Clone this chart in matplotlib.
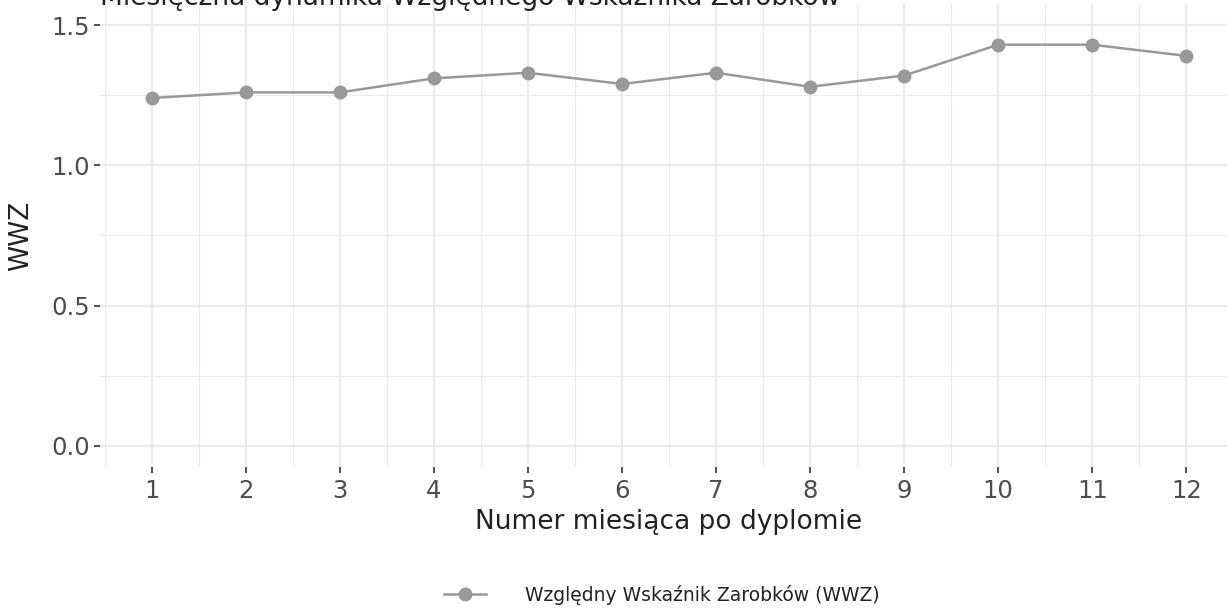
import matplotlib
matplotlib.use("Agg")

import matplotlib.pyplot as plt
from matplotlib.lines import Line2D
from matplotlib.ticker import FixedLocator

# ── Data ──
months = [1, 2, 3, 4, 5, 6, 7, 8, 9, 10, 11, 12]
wwz = [1.24, 1.26, 1.26, 1.31, 1.33, 1.29, 1.33, 1.28, 1.32, 1.43, 1.43, 1.39]
y_ticks = [0.0, 0.5, 1.0, 1.5]

title = "Miesięczna dynamika Względnego Wskaźnika Zarobków"
x_label = "Numer miesiąca po dyplomie"
y_label = "WWZ"
series_label = "Względny Wskaźnik Zarobków (WWZ)"

plt.rcParams["font.family"] = ["DejaVu Sans"]

W, H, DPI = 1227, 608, 100
fig = plt.figure(figsize=(W / DPI, H / DPI), dpi=DPI, facecolor="white")

# panel in pixel coordinates (left, top, right, bottom)
px_l, px_t, px_r, px_b = 100, 4, 1238, 467
ax = fig.add_axes([px_l / W, 1 - px_b / H, (px_r - px_l) / W, (px_b - px_t) / H])

line_col = "#999999"
grid_col = "#EBEBEB"
text_col = "#4D4D4D"

ax.plot(months, wwz, color=line_col, linewidth=1.8, marker="o",
        markersize=9, zorder=3)

ax.set_xlim(0.45, 12.55)
ax.set_ylim(-0.075, 1.575)
ax.set_xticks(months)
ax.set_yticks(y_ticks)
ax.set_yticklabels([f"{v:.1f}" for v in y_ticks])
ax.xaxis.set_minor_locator(FixedLocator([m + 0.5 for m in [0] + months]))
ax.yaxis.set_minor_locator(FixedLocator([0.25, 0.75, 1.25]))

ax.grid(True, which="major", color=grid_col, linewidth=1.6)
ax.grid(True, which="minor", color=grid_col, linewidth=0.8)
ax.set_axisbelow(True)
for s in ax.spines.values():
    s.set_visible(False)

ax.tick_params(axis="both", which="major", length=4, width=1.2, color="#333333",
               labelsize=17.5, labelcolor=text_col, pad=3)
ax.tick_params(axis="x", which="major", pad=5)
ax.tick_params(axis="both", which="minor", length=0)

ax.set_xlabel(x_label, fontsize=19, color="#222222", labelpad=4)
ax.set_ylabel(y_label, fontsize=19, color="#222222", va="center")
ax.yaxis.set_label_coords(-(px_l - 21) / (px_r - px_l), 0.5)

fig.text(px_l / W, 1 - 5 / H, title, fontsize=19, color="#222222",
         ha="left", va="baseline")

handle = Line2D([], [], color=line_col, linewidth=1.8, marker="o", markersize=9)
fig.legend([handle], [series_label], loc="center", bbox_to_anchor=(662 / W, 1 - 595 / H),
           frameon=False, fontsize=13.5, handlelength=2.25, handletextpad=2.1,
           labelcolor="#222222")

fig.savefig("out.png", dpi=DPI, facecolor="white")
plt.close(fig)
